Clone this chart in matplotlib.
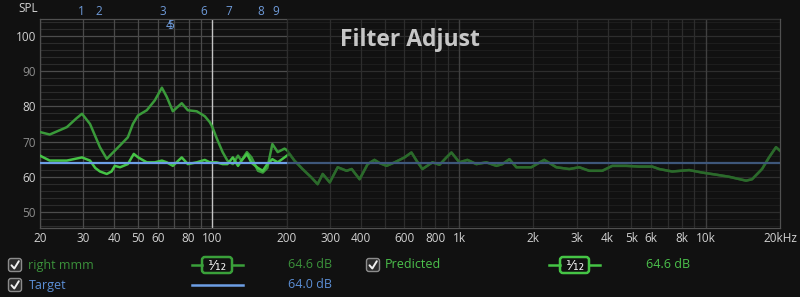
import matplotlib
matplotlib.use('Agg')
import matplotlib.pyplot as plt
from matplotlib.patches import FancyBboxPatch
import matplotlib.transforms as mtransforms

# ---------------- data ----------------
meas_freq = [20, 21.9, 25.7, 28, 29.6, 31.9, 35, 37.3, 40.2, 42.2, 45.4, 47.6, 49.9, 54.2, 58.4,
             62.4, 65.3, 69.1, 75.1, 79.5, 86.4, 93.1, 97.6, 100, 104, 110, 115, 121, 127, 131,
             138, 144, 153, 160, 167, 175, 184, 196, 201, 215, 232, 252, 267, 280, 299, 322,
             350, 367, 395, 426, 454, 476, 508, 548, 601, 641, 672, 710, 780, 833, 889, 931,
             1003, 1081, 1175, 1290, 1417, 1498, 1600, 1707, 1963, 2215, 2479, 2797, 3070,
             3371, 3806, 4177, 4759, 5372, 6066, 6475, 7310, 8563, 9667, 11015, 12432, 14571,
             15409, 16913, 18053, 19267, 20000]
meas_db = [72.7, 72.0, 74.1, 76.5, 77.9, 75.0, 68.4, 65.1, 67.4, 68.9, 71.2, 75.0, 77.4, 78.9, 81.7,
           85.3, 82.7, 78.6, 80.9, 78.9, 78.6, 77.2, 75.5, 74.1, 71.0, 67.0, 64.6, 63.6, 66.0, 64.6,
           67.0, 65.5, 61.7, 61.2, 62.5, 69.3, 67.0, 68.0, 67.5, 64.6, 62.2, 59.8, 57.9, 60.8, 58.4, 62.7,
           61.7, 62.2, 59.3, 63.6, 64.8, 63.9, 63.1, 64.1, 65.5, 66.9, 64.6, 62.2, 64.1, 63.4, 65.5, 66.9,
           64.1, 64.8, 63.6, 64.1, 63.1, 63.6, 65.0, 62.7, 62.7, 64.8, 62.7, 62.2, 62.7,
           61.7, 61.7, 63.1, 63.1, 62.9, 62.9, 62.2, 61.5, 61.9, 61.2, 60.6, 60.0, 58.9,
           59.3, 62.2, 65.5, 68.4, 67.4]

pred_low_freq = [20, 21.9, 25.7, 29.6, 31.9, 33.5, 35, 37.3, 39, 40.2, 42.2, 45.4, 48, 50, 54.2,
                 58.4, 62.4, 65.3, 69.1, 75.1, 79.5, 86.4, 93.1, 97.6, 104, 110, 115, 121, 127,
                 131, 138, 144, 153, 160, 167, 175, 184, 196, 205]
pred_low_db = [66.0, 64.6, 64.6, 65.5, 64.6, 62.5, 61.5, 60.8, 61.5, 63.1, 62.7, 63.6, 66.5, 65.5, 64.1,
               64.1, 64.6, 64.1, 63.1, 65.5, 63.6, 64.1, 64.8, 64.1, 64.1, 63.6, 63.6, 65.5, 63.1,
               64.5, 66.5, 64.0, 62.5, 61.7, 63.6, 65.0, 64.1, 65.5, 66.5]

target_db = 64.0
filter_range = (20, 200)

filter_labels = ['1', '2', '3', '4', '5', '6', '7', '8', '9']
filter_freq = [29.5, 34.7, 63.1, 66.8, 67.9, 92.2, 116.8, 156.5, 180.0]
filter_row = [0, 0, 0, 1, 1, 0, 0, 0, 0]

xtick_freqs = [20, 30, 40, 50, 60, 80, 100, 200, 300, 400, 600, 800, 1000,
               2000, 3000, 4000, 5000, 6000, 8000, 10000, 20000]
xtick_labels = ['20', '30', '40', '50', '60', '80', '100', '200', '300', '400', '600', '800', '1k',
                '2k', '3k', '4k', '5k', '6k', '8k', '10k', '20kHz']
ytick_vals = [50, 60, 70, 80, 90, 100]

legend_names = ['right mmm', 'Predicted', 'Target']
legend_values = ['64.6 dB', '64.6 dB', '64.0 dB']
smoothing_label = '\u00b9\u2044\u2081\u2082'

# ---------------- style ----------------
BG = '#111111'
C_MEAS = '#3a9a3a'
C_PRED = '#46c446'
C_TGT = '#6d9fe6'
C_TXT = '#d2d2d2'
FONT = ['Open Sans', 'DejaVu Sans']
plt.rcParams['font.family'] = FONT

W, H = 800, 297
fig = plt.figure(figsize=(W / 100, H / 100), dpi=100, facecolor=BG)
ax = fig.add_axes([40 / W, 1 - 228 / H, 740 / W, (228 - 18.7) / H])
ax.set_facecolor(BG)
ax.set_xscale('log')
ax.set_xlim(20, 20000)
ax.set_ylim(45.45, 104.9)

# grid
for v in range(46, 105, 2):
    if v % 10 == 0:
        ax.axhline(v, color='#4c4c4c', lw=0.9, zorder=1)
    else:
        ax.axhline(v, color='#2b2b2b', lw=0.8, zorder=1)
vgrid = list(range(20, 101, 10)) + list(range(200, 1001, 100)) + \
        list(range(2000, 10001, 1000)) + [20000]
for f in vgrid:
    if f == 100:
        c, lw, z = '#c4c4c4', 1.0, 2
    elif f in (1000, 10000):
        c, lw, z = '#707070', 1.0, 1.5
    else:
        c, lw, z = '#4a4a4a', 0.9, 1.2
    ax.axvline(f, color=c, lw=lw, zorder=z)

# curves
pred_freq = pred_low_freq + [f for f in meas_freq if f > 210]
pred_db = pred_low_db + [d for f, d in zip(meas_freq, meas_db) if f > 210]
ax.plot(meas_freq, meas_db, color=C_MEAS, lw=1.8, zorder=3, solid_joinstyle='round')
ax.plot(pred_freq, pred_db, color=C_PRED, lw=1.8, zorder=3.1, solid_joinstyle='round')
ax.axhline(target_db, color=C_TGT, lw=1.6, zorder=3.2)

# dim outside filter range
ax.axvspan(filter_range[1], 20000, color=BG, alpha=0.5, zorder=4, lw=0)

for s in ax.spines.values():
    s.set_color('#505050')
    s.set_linewidth(0.9)

ax.set_xticks(xtick_freqs)
ax.set_xticklabels(xtick_labels)
ax.xaxis.set_minor_locator(matplotlib.ticker.NullLocator())
ax.set_yticks(ytick_vals)
ax.set_yticklabels([str(v) for v in ytick_vals])
ax.tick_params(axis='both', length=0, labelsize=8.5, colors=C_TXT, pad=3)
for lab, v in zip(ax.get_yticklabels(), ytick_vals):
    lab.set_color(C_TXT if v % 20 == 0 else '#8c8c8c')

ax.text(0.5, 0.9, 'Filter Adjust', transform=ax.transAxes, ha='center', va='center',
        fontsize=16.5, fontweight='bold', color='#c6c6c6', zorder=6)

# filter markers
trans = mtransforms.blended_transform_factory(ax.transData, fig.transFigure)
for lab, f, r in zip(filter_labels, filter_freq, filter_row):
    y = 1 - (11.5 if r == 0 else 25.5) / H
    ax.text(f, y, lab, transform=trans, ha='center', va='center', fontsize=8.5,
            color='#6e9ad8', clip_on=False)

# ---------------- overlay (legend etc.) ----------------
ov = fig.add_axes([0, 0, 1, 1], facecolor='none')
ov.set_xlim(0, W)
ov.set_ylim(H, 0)
ov.axis('off')

ov.text(38, 8, 'SPL', ha='right', va='center', fontsize=8.5, color=C_TXT)


def checkbox(x, y):
    ov.add_patch(FancyBboxPatch((x, y - 6.5), 13, 13, boxstyle='round,pad=0,rounding_size=2.5',
                                fc='#2c2c2c', ec='#8c8c8c', lw=1.0))
    ov.plot([x + 3, x + 5.8, x + 10.3], [y + 0.3, y + 3.5, y - 3.8], color='#f0f0f0', lw=1.4,
            solid_capstyle='round', solid_joinstyle='round')


def smooth_symbol(x0, x1, bx0, bx1, y, col):
    ov.plot([x0, bx0], [y, y], color=col, lw=1.8)
    ov.plot([bx1, x1], [y, y], color=col, lw=1.8)
    ov.add_patch(FancyBboxPatch((bx0, y - 8), bx1 - bx0, 16, boxstyle='round,pad=0,rounding_size=3',
                                fc=BG, ec=col, lw=1.8))
    ov.text((bx0 + bx1) / 2, y + 0.5, smoothing_label, ha='center', va='center', fontsize=10,
            color='#f0f0f0', family=['DejaVu Sans'])


# row 1
checkbox(8.5, 265)
ov.text(28.5, 265, legend_names[0], ha='left', va='center', fontsize=9, color='#3b923b')
smooth_symbol(192, 243, 202, 232, 265, '#3aa03a')
ov.text(288, 265, legend_values[0], ha='left', va='center', fontsize=9, color='#3b923b')

checkbox(366.5, 265)
ov.text(385, 265, legend_names[1], ha='left', va='center', fontsize=9, color='#4cc24c')
smooth_symbol(549, 600, 560, 589, 265, '#45c445')
ov.text(646, 265, legend_values[1], ha='left', va='center', fontsize=9, color='#4cc24c')

# row 2
checkbox(8.5, 285)
ov.text(28.5, 285, legend_names[2], ha='left', va='center', fontsize=9, color='#5c8fd6')
ov.plot([192, 243], [285, 285], color=C_TGT, lw=1.8)
ov.text(288, 285, legend_values[2], ha='left', va='center', fontsize=9, color='#5c8fd6')

fig.savefig('out.png', dpi=100, facecolor=BG)
